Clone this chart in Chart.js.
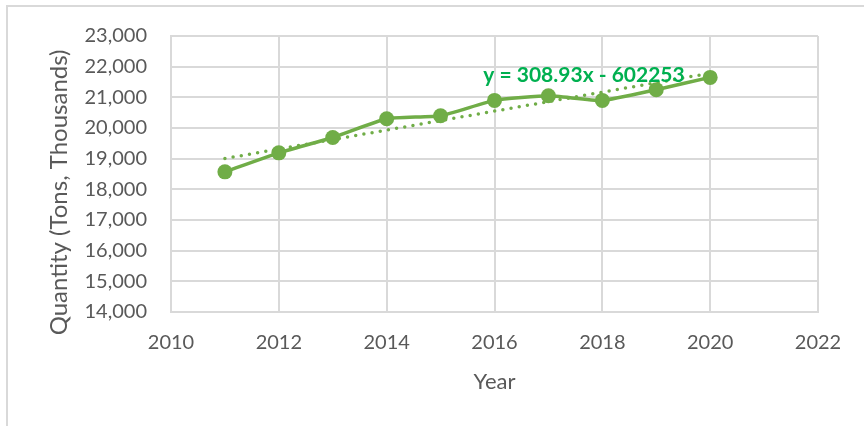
<!DOCTYPE html>
<html>
<head>
<meta charset="utf-8">
<script src="https://cdn.jsdelivr.net/npm/chart.js@4.4.1/dist/chart.umd.min.js"></script>
<style>
    body { margin: 0; background: #fff; }
    #wrap { position: relative; width: 864px; height: 426px; overflow: hidden; }
    #frame {
        position: absolute; left: 6px; top: 5px; width: 920px; height: 500px;
        border: 2px solid #d9d9d9; box-sizing: border-box;
    }
    #chart { position: absolute; left: 0; top: 0; }
</style>
</head>
<body>
<div id="wrap">
    <div id="frame"></div>
    <canvas id="chart" width="864" height="426"></canvas>
</div>
<script>
// Data
const years = [2011, 2012, 2013, 2014, 2015, 2016, 2017, 2018, 2019, 2020];
const quantity = [18570, 19190, 19690, 20300, 20400, 20900, 21050, 20900, 21250, 21650];

// Linear trendline, ends as shown by y = 308.93x - 602253
const trendYears = [2011, 2020];
const trendValues = [19005, 21786];
const trendLabel = "y = 308.93x - 602253";

const green = "#70AD47";
const textGray = "#595959";
const gridGray = "#d9d9d9";
const fontFamily = "Lato, 'Open Sans', sans-serif";

const toPoints = (xs, ys) => xs.map((x, i) => ({ x: x, y: ys[i] }));

// Draws the trendline equation on top of the series
const equationPlugin = {
    id: "equation",
    afterDatasetsDraw(chart) {
        const { ctx, scales } = chart;
        const px = scales.x.getPixelForValue(2017.66);
        const py = scales.y.getPixelForValue(21720);
        ctx.save();
        ctx.font = "bold 21px " + fontFamily;
        ctx.fillStyle = "#00B050";
        ctx.textAlign = "center";
        ctx.textBaseline = "middle";
        ctx.fillText(trendLabel, px, py);
        ctx.restore();
    },
};

new Chart(document.getElementById("chart"), {
    type: "line",
    data: {
        datasets: [
            {
                label: "Quantity",
                data: toPoints(years, quantity),
                borderColor: green,
                backgroundColor: green,
                borderWidth: 3.5,
                pointRadius: 7.5,
                pointHoverRadius: 7.5,
                pointBorderWidth: 0,
                tension: 0.15,
                order: 2,
            },
            {
                label: "Linear (Quantity)",
                data: toPoints(trendYears, trendValues),
                borderColor: green,
                borderWidth: 3.5,
                borderDash: [0, 8.3],
                borderCapStyle: "round",
                pointRadius: 0,
                order: 1,
            },
        ],
    },
    options: {
        responsive: false,
        animation: false,
        devicePixelRatio: 1,
        layout: { padding: { left: 37, top: 36, right: 46, bottom: 0 } },
        plugins: {
            legend: { display: false },
            tooltip: { enabled: false },
        },
        scales: {
            x: {
                type: "linear",
                min: 2010,
                max: 2022,
                ticks: {
                    stepSize: 2,
                    color: textGray,
                    font: { family: fontFamily, size: 20 },
                    padding: 19,
                    callback: (v) => String(v),
                },
                grid: { color: gridGray, lineWidth: 2, drawTicks: false },
                border: { color: gridGray, width: 2 },
                title: {
                    display: true,
                    text: "Year",
                    color: textGray,
                    font: { family: fontFamily, size: 22 },
                    padding: { top: 4, bottom: 31 },
                },
                afterFit: (scale) => { scale.height = 114; },
            },
            y: {
                min: 14000,
                max: 23000,
                ticks: {
                    stepSize: 1000,
                    color: textGray,
                    font: { family: fontFamily, size: 20 },
                    padding: 24,
                },
                grid: { color: gridGray, lineWidth: 2, drawTicks: false },
                border: { color: gridGray, width: 2 },
                title: {
                    display: true,
                    // trailing spaces nudge the centred title down, as in the original
                    text: "Quantity (Tons, Thousands)      ",
                    color: textGray,
                    font: { family: fontFamily, size: 24 },
                    padding: { top: 8, bottom: 4 },
                },
                afterFit: (scale) => { scale.width = 134; },
            },
        },
    },
    plugins: [equationPlugin],
});
</script>
</body>
</html>
